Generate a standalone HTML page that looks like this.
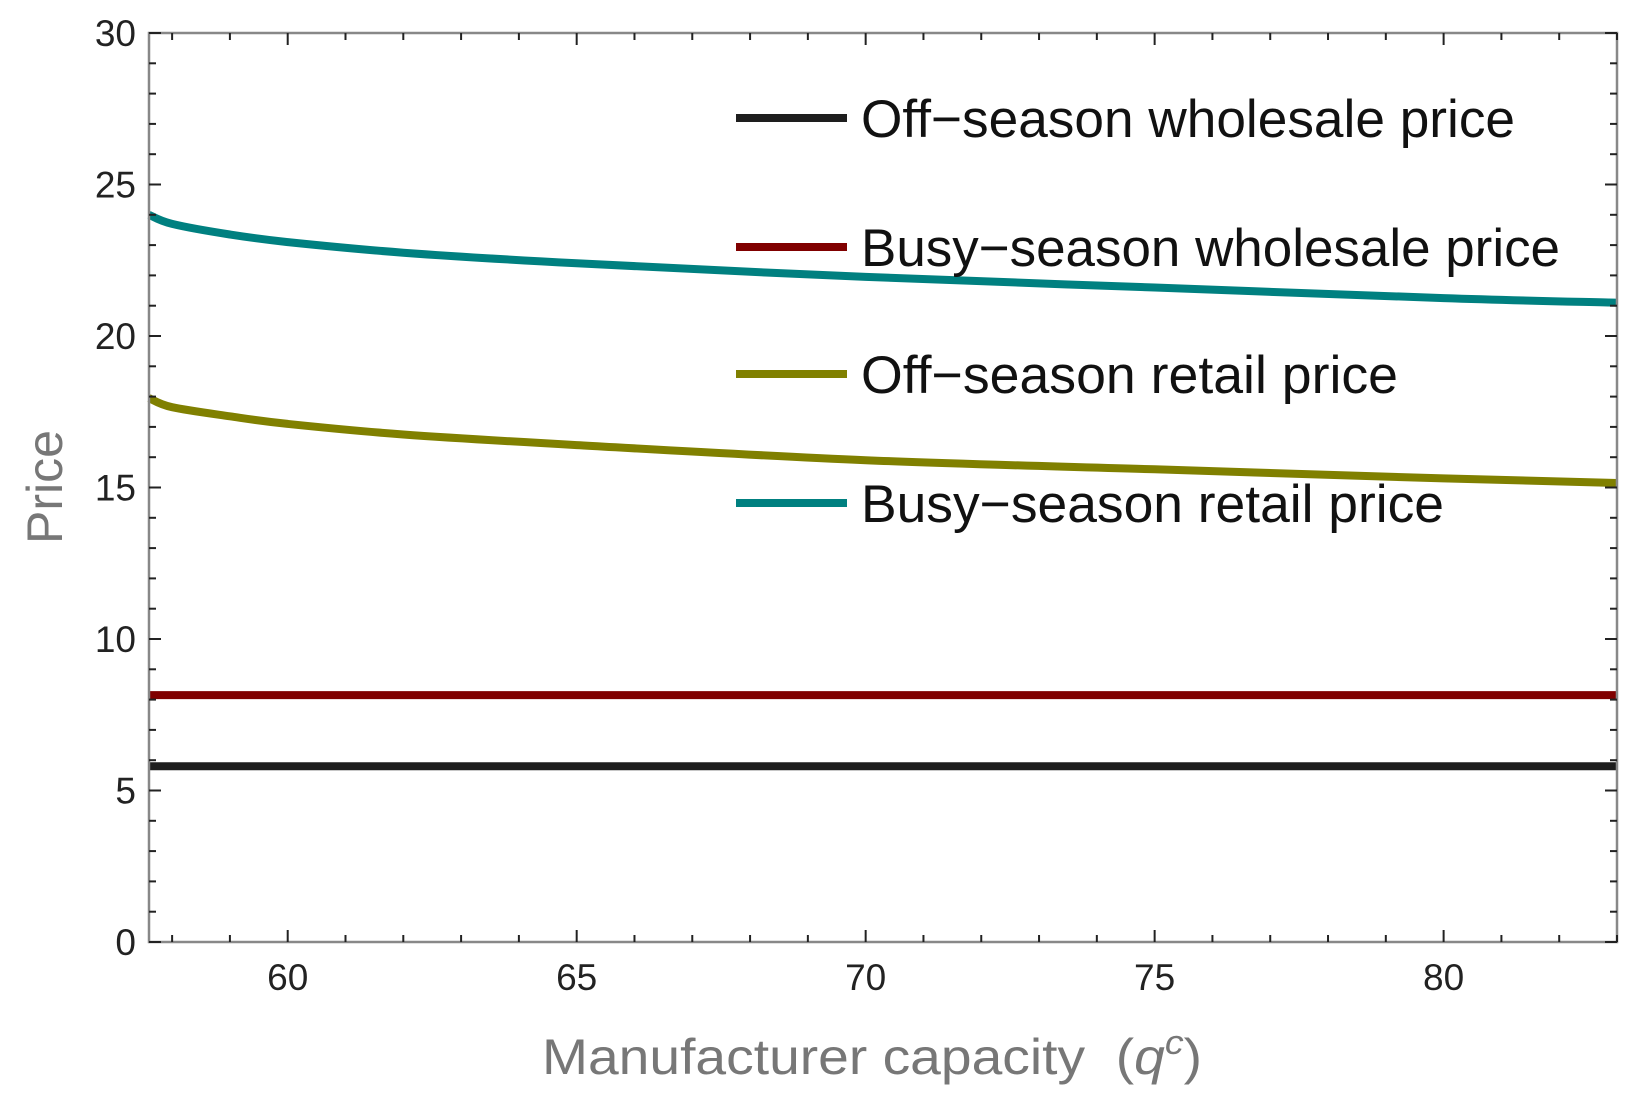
<!DOCTYPE html>
<html><head><meta charset="utf-8"><style>
html,body{margin:0;padding:0;background:#fff;}
svg{display:block;font-family:"Liberation Sans",Arial,sans-serif;}
</style></head><body>
<svg id="chart" width="1644" height="1107" viewBox="0 0 1644 1107" xmlns="http://www.w3.org/2000/svg"></svg>
<script>
const xValues = [57.6, 58, 59, 60, 62, 65, 70, 75, 80, 83];
const busyRetail = [24.0, 23.7, 23.35, 23.1, 22.75, 22.4, 21.95, 21.6, 21.25, 21.1];
const offRetail = [17.95, 17.65, 17.35, 17.1, 16.75, 16.4, 15.9, 15.6, 15.3, 15.15];
const busyWholesale = [8.15, 8.15];
const offWholesale = [5.8, 5.8];
const wholesaleX = [57.6, 83];
const xTicks = [60, 65, 70, 75, 80];
const yTicks = [0, 5, 10, 15, 20, 25, 30];
const legendLabels = ["Off\u2212season wholesale price", "Busy\u2212season wholesale price", "Off\u2212season retail price", "Busy\u2212season retail price"];

const L = 149, R = 1617, T = 33, B = 942;
const xMin = 57.6, xMax = 83, yMin = 0, yMax = 30;
const sx = v => L + (v - xMin) / (xMax - xMin) * (R - L);
const sy = v => B - (v - yMin) / (yMax - yMin) * (B - T);
const NS = "http://www.w3.org/2000/svg";
const svg = document.getElementById("chart");
function mk(tag, attrs, parent) {
  const e = document.createElementNS(NS, tag);
  for (const k in attrs) e.setAttribute(k, attrs[k]);
  (parent || svg).appendChild(e);
  return e;
}

function smoothPath(xs, ys) {
  const p = xs.map((x, i) => [sx(x), sy(ys[i])]);
  let d = "M" + p[0][0].toFixed(1) + "," + p[0][1].toFixed(1);
  for (let i = 0; i < p.length - 1; i++) {
    const p0 = p[i - 1] || p[i], p1 = p[i], p2 = p[i + 1], p3 = p[i + 2] || p2;
    const c1 = [p1[0] + (p2[0] - p0[0]) / 6, p1[1] + (p2[1] - p0[1]) / 6];
    const c2 = [p2[0] - (p3[0] - p1[0]) / 6, p2[1] - (p3[1] - p1[1]) / 6];
    d += " C" + c1.map(n => n.toFixed(1)).join(",") + " " + c2.map(n => n.toFixed(1)).join(",") + " " + p2.map(n => n.toFixed(1)).join(",");
  }
  return d;
}
function series(xs, ys, color, name) {
  const p = mk("path", {d: smoothPath(xs, ys), fill: "none", stroke: color, "stroke-width": 8, "stroke-linejoin": "round"});
  
  
}
series(wholesaleX, offWholesale, "#1e1e1e", "off-season-wholesale-line");
series(wholesaleX, busyWholesale, "#800000", "busy-season-wholesale-line");
series(xValues, offRetail, "#808000", "off-season-retail-line");
series(xValues, busyRetail, "#008080", "busy-season-retail-line");

const frame = mk("rect", {x: L, y: T, width: R - L, height: B - T, fill: "none", stroke: "#888", "stroke-width": 2.5});



const tg = mk("g", {stroke: "#222", "stroke-width": 2});


for (let v = 0; v <= 30; v++) {
  const y = sy(v), len = v % 5 === 0 ? 12 : 7;
  mk("line", {x1: L, x2: L + len, y1: y, y2: y}, tg);
  mk("line", {x1: R, x2: R - len, y1: y, y2: y}, tg);
}
for (let v = 58; v <= 83; v++) {
  const x = sx(v), len = v % 5 === 0 ? 12 : 7;
  mk("line", {x1: x, x2: x, y1: B, y2: B - len}, tg);
  mk("line", {x1: x, x2: x, y1: T, y2: T + len}, tg);
}
yTicks.forEach(v => {
  const t = mk("text", {x: 136, y: sy(v) + 13, "text-anchor": "end", "font-size": 37, fill: "#222"});
  t.textContent = v;
  
  
});
xTicks.forEach(v => {
  const t = mk("text", {x: sx(v), y: 990, "text-anchor": "middle", "font-size": 37, fill: "#222"});
  t.textContent = v;
  
  
});

const legColors = ["#1e1e1e", "#800000", "#808000", "#008080"];
const legLineY = [118, 247, 374, 503];
const legEnds = [1515, 1560, 1398, 1444];
legendLabels.forEach((lab, i) => {
  const g = mk("g", {});
  
  
  mk("line", {x1: 736, x2: 847, y1: legLineY[i], y2: legLineY[i], stroke: legColors[i], "stroke-width": 8}, g);
  const t = mk("text", {x: 861, y: legLineY[i] + 19, "font-size": 53, fill: "#111", textLength: legEnds[i] - 861, lengthAdjust: "spacingAndGlyphs"}, g);
  t.textContent = lab;
});

const yt = mk("text", {x: 0, y: 0, transform: "translate(62,487) rotate(-90)", "text-anchor": "middle", "font-size": 50, fill: "#777"});
yt.textContent = "Price";


const xt = mk("text", {x: 542, y: 1074, "font-size": 50, fill: "#777", textLength: 660, lengthAdjust: "spacingAndGlyphs"});


xt.innerHTML = 'Manufacturer capacity \u00a0(<tspan font-style="italic">q</tspan><tspan dy="-20" font-size="34" font-style="italic">c</tspan><tspan dy="20">)</tspan>';
</script>
</body></html>
